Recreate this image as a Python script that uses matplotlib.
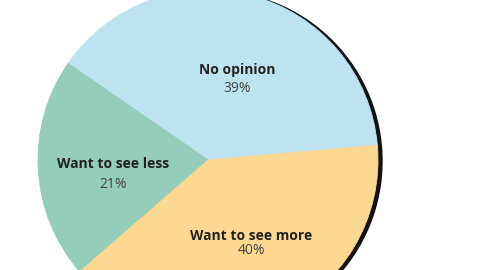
import matplotlib.pyplot as plt
from matplotlib.patches import Circle

labels = ["No opinion", "Want to see less", "Want to see more"]
shares = [39, 21, 40]
colors = ["#bde3f1", "#94cdb9", "#fdd891"]

# label anchor points (pixel coords of the picture, y down)
label_xy = [(237, 70), (113, 164), (251, 236)]
pct_gap = [19, 21, 15]

fig = plt.figure(figsize=(4.8, 2.7), dpi=100)
ax = fig.add_axes([0, 0, 1, 1])

cx, cy, r = 208, 270 - 160, 170

# dark shadow behind the pie, offset to the right
ax.add_patch(Circle((cx + 4, cy - 1), r, color="#111111", zorder=1))

wedges, _ = ax.pie(shares, colors=colors, startangle=5, counterclock=True,
                   center=(cx, cy), radius=r, frame=True,
                   wedgeprops=dict(linewidth=0.6, zorder=2))
for w, c in zip(wedges, colors):
    w.set_edgecolor(c)

ax.set_xlim(0, 480)
ax.set_ylim(0, 270)
ax.set_aspect("auto")
ax.axis("off")

for name, val, (x, y), gap in zip(labels, shares, label_xy, pct_gap):
    ax.text(x, 270 - y, name, ha="center", va="center", fontsize=10,
            fontweight="bold", color="#222222", family="Open Sans", zorder=3)
    ax.text(x, 270 - y - gap, f"{val}%", ha="center", va="center",
            fontsize=10, color="#444444", family="Open Sans", zorder=3)

fig.savefig("out.png", dpi=100)
